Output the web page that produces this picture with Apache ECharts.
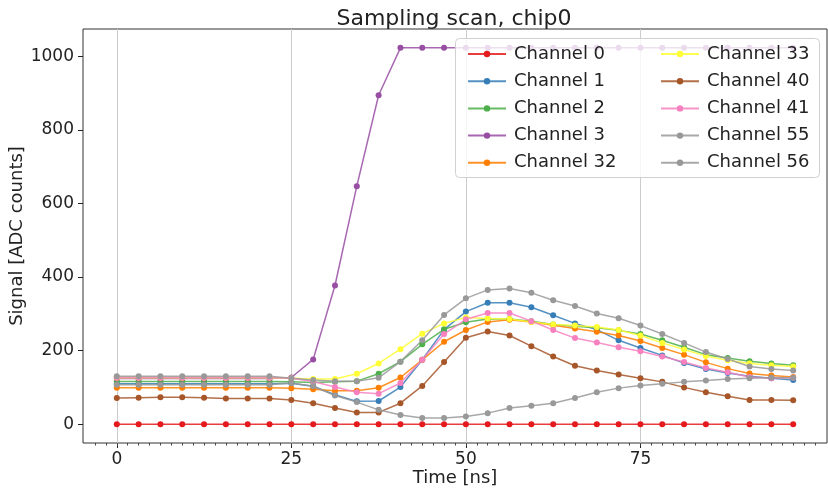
<!DOCTYPE html>
<html>
<head>
<meta charset="utf-8">
<script src="https://cdn.jsdelivr.net/npm/echarts@6/dist/echarts.min.js"></script>
<style>
  html, body { margin: 0; padding: 0; background: #fff; }
  #chart { width: 828px; height: 490px; }
</style>
</head>
<body>
<div id="chart"></div>
<script>
// sample times [ns]
const times = [0, 3.125, 6.25, 9.375, 12.5, 15.625, 18.75, 21.875, 25, 28.125, 31.25, 34.375,
    37.5, 40.625, 43.75, 46.875, 50, 53.125, 56.25, 59.375, 62.5, 65.625, 68.75, 71.875,
    75, 78.125, 81.25, 84.375, 87.5, 90.625, 93.75, 96.875]

// ADC counts per channel
const ch0 = [0, 0, 0, 0, 0, 0, 0, 0, 0, 0, 0, 0, 0, 0, 0, 0, 0, 0, 0, 0, 0, 0, 0, 0, 0, 0, 0, 0, 0, 0, 0, 0]
const ch1 = [110, 110, 110, 110, 110, 110, 110, 110, 111, 103, 80, 62, 63, 101, 175, 257,
    306, 330, 330, 318, 296, 274, 257, 228, 207, 187, 166, 150, 139, 130, 125, 120]
const ch2 = [116, 116, 116, 116, 116, 116, 116, 116, 115, 113, 115, 117, 137, 170, 217, 258,
    277, 286, 286, 280, 271, 266, 262, 255, 245, 228, 209, 189, 180, 171, 165, 160]
const ch3 = [124, 124, 124, 124, 124, 124, 124, 124, 127, 176, 377, 647, 894, 1023, 1023, 1023,
    1023, 1023, 1023, 1023, 1023, 1023, 1023, 1023, 1023, 1023, 1023, 1023, 1023, 1023, 1023, 1023]
const ch32 = [99, 99, 99, 99, 99, 99, 99, 99, 98, 95, 91, 91, 99, 127, 175, 224,
    256, 278, 284, 278, 269, 260, 251, 241, 226, 207, 189, 168, 151, 138, 132, 128]
const ch33 = [126, 126, 126, 126, 126, 126, 126, 126, 125, 123, 123, 137, 165, 204, 246, 274,
    290, 287, 286, 278, 271, 268, 264, 256, 241, 221, 203, 185, 174, 165, 160, 157]
const ch40 = [71, 72, 73, 73, 72, 70, 70, 70, 66, 57, 44, 32, 32, 57, 104, 169,
    235, 252, 241, 212, 184, 159, 146, 135, 125, 115, 100, 87, 76, 66, 66, 65]
const ch41 = [127, 127, 127, 127, 127, 127, 127, 127, 125, 116, 101, 87, 83, 112, 175, 245,
    285, 302, 302, 280, 256, 234, 222, 209, 198, 184, 169, 153, 141, 128, 125, 126]
const ch55 = [107, 107, 107, 107, 107, 107, 107, 107, 112, 103, 78, 60, 39, 25, 17, 17,
    21, 30, 44, 50, 57, 71, 87, 98, 105, 110, 115, 119, 123, 125, 127, 126]
const ch56 = [130, 130, 130, 130, 130, 130, 130, 130, 125, 120, 117, 117, 126, 170, 228, 297,
    342, 365, 369, 357, 337, 321, 301, 288, 268, 245, 221, 196, 177, 157, 150, 146]

const channelNames = ['Channel 0', 'Channel 1', 'Channel 2', 'Channel 3', 'Channel 32',
    'Channel 33', 'Channel 40', 'Channel 41', 'Channel 55', 'Channel 56']
const channelData = [ch0, ch1, ch2, ch3, ch32, ch33, ch40, ch41, ch55, ch56]
const colors = ['#e41a1c', '#377eb8', '#4daf4a', '#984ea3', '#ff7f00',
    '#ffff33', '#a65628', '#f781bf', '#999999', '#999999']

const xTicks = [0, 25, 50, 75]
const yTicks = [0, 200, 400, 600, 800, 1000]

// minor ticks along the time axis
let xMinor = []
for (let t = -3.125; t <= 101; t += 1.5625) xMinor.push(t)

const font = 'DejaVu Sans'

let myChart = echarts.init(document.getElementById('chart'), null, { renderer: 'canvas' })

let series = channelNames.map(function(name, k) {
    return {
        name: name,
        type: 'line',
        data: times.map(function(t, i) { return [t, channelData[k][i]] }),
        symbol: 'circle',
        symbolSize: 6,
        color: colors[k],
        lineStyle: { width: 1.5, opacity: 0.85 },
        itemStyle: { opacity: 1 },
        emphasis: { disabled: true },
        z: 2,
        animation: false
    }
})

let legendBase = {
    orient: 'vertical',
    itemWidth: 38,
    itemHeight: 8,
    itemGap: 7.2,
    top: 39,
    z: 12,
    backgroundColor: 'transparent',
    textStyle: { fontFamily: font, fontSize: 18, color: '#222', lineHeight: 20, padding: [0, 0, 0, 3] },
    selectedMode: false
}

myChart.setOption({
    animation: false,
    title: {
        text: 'Sampling scan, chip0',
        left: 449,
        top: 3,
        textAlign: 'center',
        textStyle: { fontFamily: font, fontSize: 22, fontWeight: 'normal', color: '#222' }
    },
    grid: {
        left: 83,
        right: 1,
        top: 29,
        bottom: 47,
        show: true,
        borderColor: '#333',
        borderWidth: 1,
        backgroundColor: 'transparent',
        outerBoundsMode: 'none'
    },
    graphic: [{
        type: 'rect',
        z: 10,
        zlevel: 0,
        shape: { x: 455.5, y: 38.5, width: 364, height: 139, r: 4 },
        style: { fill: 'rgba(255,255,255,0.8)', stroke: '#d0d0d0', lineWidth: 1 }
    }],
    legend: [
        Object.assign({}, legendBase, { left: 462, data: channelNames.slice(0, 5) }),
        Object.assign({}, legendBase, { left: 655, data: channelNames.slice(5) })
    ],
    xAxis: [{
        type: 'value',
        min: -4.84,
        max: 101.72,
        name: 'Time [ns]',
        nameLocation: 'middle',
        nameGap: 26,
        nameMoveOverlap: false,
        nameTextStyle: { fontFamily: font, fontSize: 18, color: '#222' },
        axisLine: { show: false, onZero: false },
        axisTick: { show: true, length: 5, inside: false, customValues: xTicks, lineStyle: { color: '#222' } },
        axisLabel: { show: true, margin: 8, customValues: xTicks, fontFamily: font, fontSize: 17, color: '#222' },
        splitLine: { show: true, lineStyle: { color: '#cccccc', width: 1 } }
    }, {
        type: 'value',
        min: -4.84,
        max: 101.72,
        position: 'bottom',
        axisLine: { show: false, onZero: false },
        axisTick: { show: true, length: 2.5, customValues: xMinor, lineStyle: { color: '#444' } },
        axisLabel: { show: false },
        splitLine: { show: false }
    }],
    yAxis: {
        type: 'value',
        min: -51.15,
        max: 1074.15,
        position: 'left',
        name: 'Signal [ADC counts]',
        nameLocation: 'middle',
        nameGap: 57,
        nameMoveOverlap: false,
        nameTextStyle: { fontFamily: font, fontSize: 18, color: '#222' },
        axisLine: { show: false, onZero: false },
        axisTick: { show: true, length: 5, customValues: yTicks, lineStyle: { color: '#222' } },
        axisLabel: {
            show: true, margin: 9, customValues: yTicks, fontFamily: font, fontSize: 17, color: '#222',
            formatter: function(v) { return String(v) }
        },
        splitLine: { show: false }
    },
    series: series
})
</script>
</body>
</html>
